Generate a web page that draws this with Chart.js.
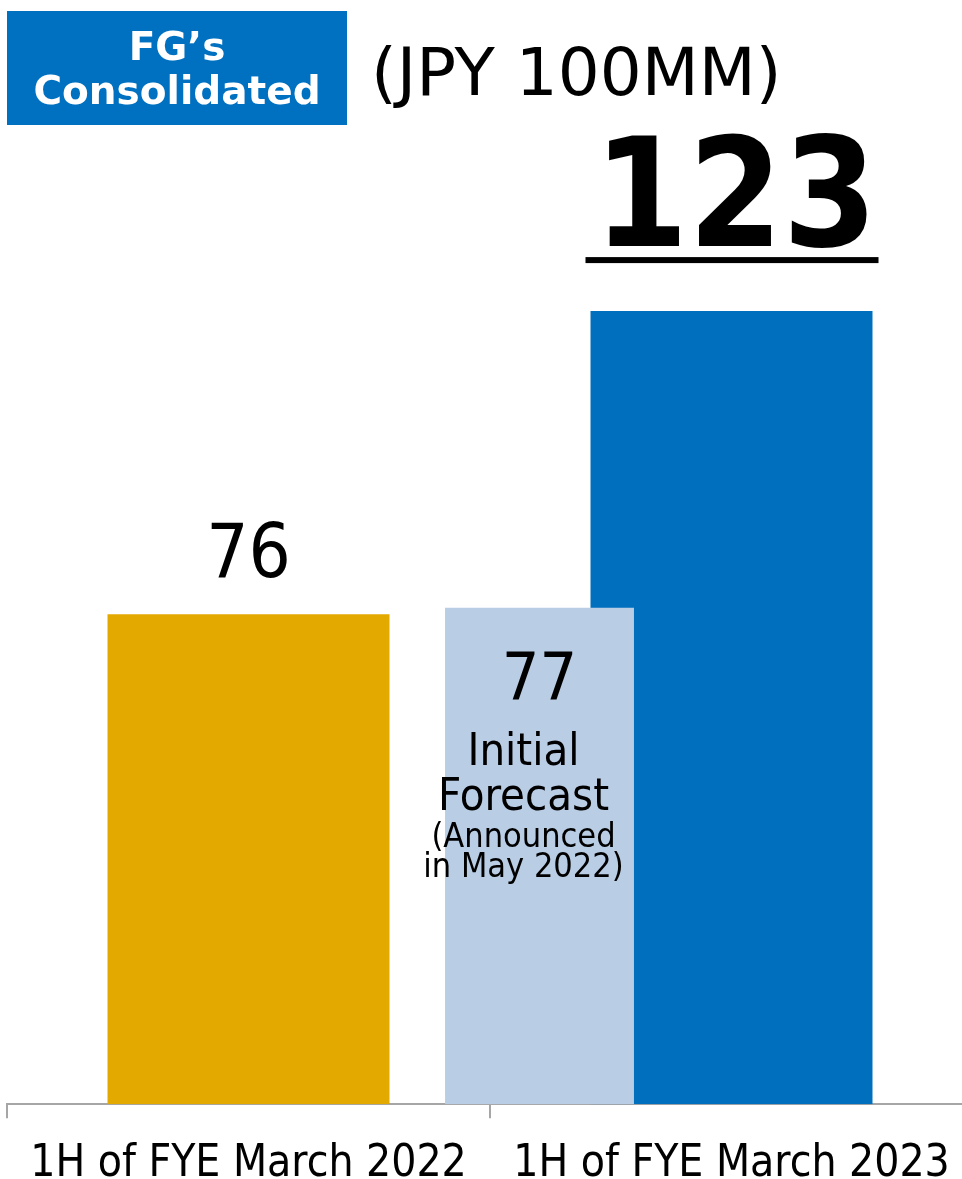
<!DOCTYPE html>
<html><head><meta charset="utf-8">
<script src="https://cdn.jsdelivr.net/npm/chart.js@4.4.0/dist/chart.umd.min.js"></script>
<style>
html,body{margin:0;padding:0;overflow:hidden;background:#fff;width:962px;height:1179px}
canvas{position:absolute;left:0;top:0}
</style>
</head><body>
<canvas id="c" width="975" height="1211"></canvas>
<script>
const categories = ['1H of FYE March 2022', '1H of FYE March 2023'];
const actualValues = [76, 123];
const forecastValues = [null, 77];
const spacerValues = [null, null];
const forecastNote = ['Initial', 'Forecast'];
const forecastSubNote = ['(Announced', 'in May 2022)'];
const unitLabel = '(JPY 100MM)';
const badgeLines = ['FG\u2019s', 'Consolidated'];
const yMax = 150;

const COND = '"DejaVu Sans Condensed", "DejaVu Sans"';
const REG = '"DejaVu Sans"';

const labelsPlugin = {
  id: 'valueLabels',
  beforeDraw(chart) {
    const ctx = chart.ctx;
    ctx.save();
    ctx.fillStyle = '#0070C0';
    ctx.fillRect(7, 11, 340, 114);
    ctx.fillStyle = '#fff';
    ctx.textAlign = 'center';
    ctx.textBaseline = 'alphabetic';
    ctx.font = 'bold 39px ' + REG;
    ctx.fillText(badgeLines[0], 177, 60);
    ctx.fillText(badgeLines[1], 177, 104);
    ctx.fillStyle = '#000';
    ctx.textAlign = 'left';
    ctx.font = '66px ' + REG;
    ctx.fillText(unitLabel, 371, 95);
    ctx.restore();
  },
  afterDatasetsDraw(chart) {
    const ctx = chart.ctx;
    ctx.save();
    ctx.fillStyle = '#000';
    ctx.textAlign = 'center';
    ctx.textBaseline = 'alphabetic';
    const act = chart.getDatasetMeta(1).data;
    act.forEach((bar, i) => {
      const v = actualValues[i];
      if (v == null) return;
      if (i === actualValues.length - 1) {
        ctx.font = 'bold 151px ' + COND;
        ctx.fillText(String(v), bar.x + 4, bar.y - 65);
        ctx.fillRect(bar.x - 146, bar.y - 54, 293, 6);
      } else {
        ctx.font = '74px ' + COND;
        ctx.fillText(String(v), bar.x, bar.y - 37);
      }
    });
    const fc = chart.getDatasetMeta(0).data;
    fc.forEach((bar, i) => {
      const v = forecastValues[i];
      if (v == null) return;
      ctx.font = '66px ' + COND;
      ctx.fillText(String(v), bar.x, bar.y + 92);
      ctx.font = '45px ' + COND;
      forecastNote.forEach((t, k) => ctx.fillText(t, bar.x - 16, bar.y + 157 + k * 45));
      ctx.font = '34px ' + COND;
      forecastSubNote.forEach((t, k) => ctx.fillText(t, bar.x - 16, bar.y + 239 + k * 30));
    });
    ctx.restore();
  }
};

new Chart(document.getElementById('c').getContext('2d'), {
  type: 'bar',
  data: {
    labels: categories,
    datasets: [
      { label: 'Initial Forecast', data: forecastValues, backgroundColor: '#B9CDE5',
        categoryPercentage: 1.1925, barPercentage: 0.984 },
      { label: 'Actual', data: actualValues, backgroundColor: ['#E3A900', '#006FBE'],
        categoryPercentage: 1.1925, barPercentage: 1.46875 },
      { label: '', data: spacerValues, backgroundColor: 'rgba(0,0,0,0)',
        categoryPercentage: 1.1925, barPercentage: 1 }
    ]
  },
  options: {
    responsive: false,
    animation: false,
    devicePixelRatio: 1,
    layout: { padding: { left: 7, right: 2, top: 137, bottom: 0 } },
    plugins: { legend: { display: false }, tooltip: { enabled: false }, title: { display: false } },
    scales: {
      x: {
        offset: true,
        grid: { display: true, offset: true, drawOnChartArea: false, drawTicks: true,
                tickLength: 14, color: '#A6A6A6', lineWidth: 2 },
        border: { display: true, color: '#A6A6A6', width: 2 },
        ticks: { color: '#000', font: { family: COND, size: 44, lineHeight: 1.2 },
                 padding: 20, maxRotation: 0, autoSkip: false }
      },
      y: { display: false, min: 0, max: yMax }
    }
  },
  plugins: [labelsPlugin]
});
</script>
</body></html>
